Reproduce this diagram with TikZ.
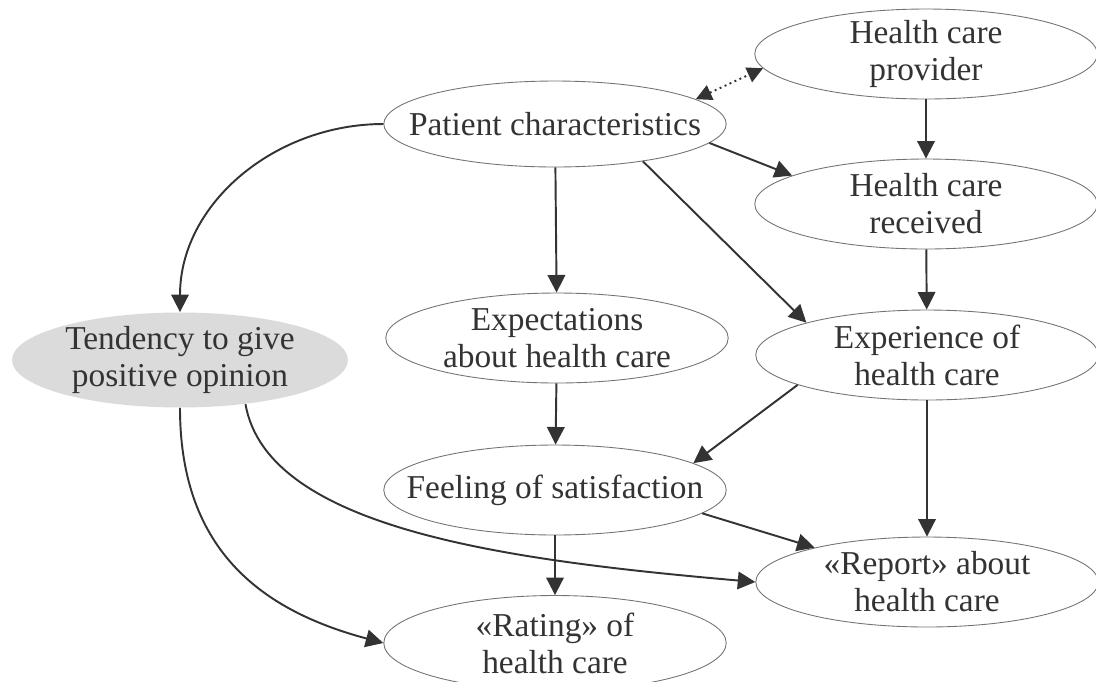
\documentclass[tikz,border=0pt]{standalone}
\usepackage{fontspec}
\setmainfont{Liberation Serif}
\usetikzlibrary{arrows.meta,shapes.geometric}

\begin{document}
\begin{tikzpicture}[x=0.02cm, y=0.02cm,
  box/.style={ellipse, draw=black!55, line width=0.5pt, minimum width=6.85cm,
    minimum height=1.8cm, inner xsep=-1cm, inner ysep=-0.3cm, align=center,
    text=black!80, font=\fontsize{19}{21}\selectfont},
  arr/.style={-{Triangle[length=10pt, width=10pt]}, line width=1.1pt, draw=black!80},
  both/.style={{Triangle[length=9pt, width=9pt]}-{Triangle[length=9pt, width=9pt]},
    line width=1.1pt, draw=black!80, dotted}
]
\clip (0,0) rectangle (1096,-681);

\node[box]                        (prov)   at (926,-54)  {Health care\\provider};
\node[box, minimum height=1.72cm] (pat)    at (555,-124) {Patient characteristics};
\node[box]                        (recv)   at (926,-204) {Health care\\received};
\node[box, fill=black!14, draw=none, minimum width=6.72cm,
  minimum height=1.9cm]           (tend)   at (180,-360) {Tendency to give\\positive opinion};
\node[box]                        (expect) at (557,-338) {Expectations\\about health care};
\node[box]                        (exper)  at (927,-355) {Experience of\\health care};
\node[box]                        (feel)   at (555,-490) {Feeling of satisfaction};
\node[box]                        (report) at (927,-582) {«Report» about\\health care};
\node[box, minimum height=1.9cm]  (rating) at (555,-643) {«Rating» of\\health care};

\draw[both] (pat.10) -- (prov.185);
\draw[arr] (prov) -- (recv);
\draw[arr] (pat.-7) -- (recv.168);
\draw[arr] (pat.-23) -- (exper.165);
\draw[arr] (pat) -- (expect);
\draw[arr] (recv) -- (exper);
\draw[arr] (expect) -- (feel);
\draw[arr] (exper.193) -- (feel.11);
\draw[arr] (exper) -- (report);
\draw[arr] (feel.-9) -- (report.163);
\draw[arr] (feel) -- (rating);

% influence of the opinion tendency
\draw[arr] (pat.west) to[out=180, in=90] (tend.north);
\draw[arr] (tend.south) to[out=-90, in=165, out looseness=1.2] (rating.west);
\draw[arr] (tend.-34) to[out=-80, in=175, out looseness=0.6, in looseness=1.18] (report.west);
\end{tikzpicture}
\end{document}
